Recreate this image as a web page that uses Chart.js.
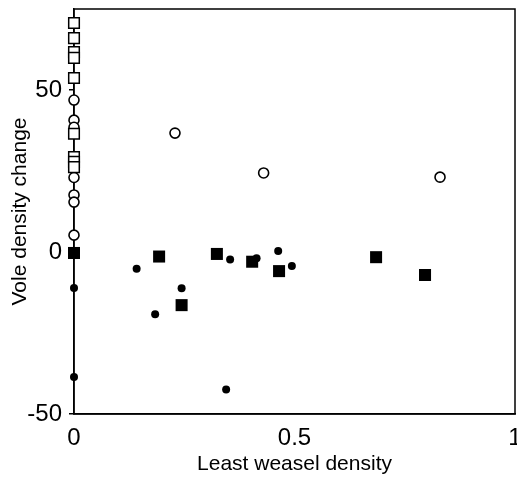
<!DOCTYPE html>
<html>
<head>
<meta charset="utf-8">
<script src="https://cdn.jsdelivr.net/npm/chart.js@4.4.1/dist/chart.umd.min.js"></script>
<style>
  html, body { margin: 0; padding: 0; background: #fff; overflow: hidden; }
  #wrap { width: 524px; height: 478px; }
</style>
</head>
<body>
<div id="wrap"><canvas id="chart"></canvas></div>
<script>
// open squares
const openSqX = [0, 0, 0, 0, 0, 0, 0, 0, 0];
const openSqY = [70.7, 66, 61.7, 59.9, 53.7, 36.5, 29.3, 27.8, 26.2];
// open circles
const openCircX = [0, 0, 0, 0, 0, 0, 0, 0.229, 0.43, 0.83];
const openCircY = [46.9, 40.7, 38.5, 23, 17.6, 15.4, 5.2, 36.7, 24.4, 23.1];
// filled squares
const fillSqX = [0, 0.193, 0.324, 0.404, 0.465, 0.244, 0.685, 0.796];
const fillSqY = [-0.3, -1.4, -0.6, -3.0, -5.9, -16.4, -1.6, -7.1];
// filled circles
const fillCircX = [0, 0, 0.142, 0.354, 0.414, 0.463, 0.494, 0.244, 0.184, 0.345];
const fillCircY = [-11.1, -38.6, -5.2, -2.3, -1.9, 0.3, -4.3, -11.2, -19.2, -42.4];

const xTicks = [0, 0.5, 1];
const yTicks = [-50, 0, 50];

const pts = (xs, ys) => xs.map((x, i) => ({ x: x, y: ys[i] }));

// draw the frame box under the markers
const frame = {
  id: 'frame',
  beforeDatasetsDraw(chart) {
    const a = chart.chartArea;
    const ctx = chart.ctx;
    ctx.save();
    ctx.strokeStyle = '#000';
    ctx.lineWidth = 1.5;
    ctx.strokeRect(a.left, a.top, a.right - a.left, a.bottom - a.top);
    ctx.restore();
  }
};

new Chart(document.getElementById('chart'), {
  type: 'scatter',
  data: {
    datasets: [
      {
        label: 'open squares',
        data: pts(openSqX, openSqY),
        pointStyle: 'rect',
        pointRadius: 7.5,
        backgroundColor: '#fff',
        borderColor: '#000',
        borderWidth: 1.5,
        clip: false
      },
      {
        label: 'open circles',
        data: pts(openCircX, openCircY),
        pointStyle: 'circle',
        pointRadius: 5,
        backgroundColor: '#fff',
        borderColor: '#000',
        borderWidth: 1.6,
        clip: false
      },
      {
        label: 'filled squares',
        data: pts(fillSqX, fillSqY),
        pointStyle: 'rect',
        pointRadius: 8.5,
        backgroundColor: '#000',
        borderColor: '#000',
        borderWidth: 0,
        clip: false
      },
      {
        label: 'filled circles',
        data: pts(fillCircX, fillCircY),
        pointStyle: 'circle',
        pointRadius: 4,
        backgroundColor: '#000',
        borderColor: '#000',
        borderWidth: 0,
        clip: false
      }
    ]
  },
  options: {
    responsive: true,
    maintainAspectRatio: false,
    animation: false,
    layout: {
      padding: { left: 10, top: 0, right: 0, bottom: 3 }
    },
    plugins: {
      legend: { display: false },
      tooltip: { enabled: false }
    },
    scales: {
      x: {
        type: 'linear',
        min: 0,
        max: 1,
        afterBuildTicks: (scale) => {
          scale.ticks = xTicks.map(v => ({ value: v }));
        },
        afterFit: (scale) => {
          scale.height = 61;
          scale.paddingRight = 2;
        },
        grid: {
          display: false,
          drawTicks: false
        },
        border: { display: true, color: '#000', width: 1.5 },
        ticks: {
          color: '#000',
          padding: 12,
          maxRotation: 0,
          font: { family: 'Liberation Sans', size: 24, lineHeight: 1 },
          callback: (v) => String(v)
        },
        title: {
          display: true,
          text: 'Least weasel density',
          color: '#000',
          font: { family: 'Liberation Sans', size: 21, lineHeight: 1 },
          padding: { top: 0, bottom: 0 }
        }
      },
      y: {
        type: 'linear',
        min: -50,
        max: 75,
        afterBuildTicks: (scale) => {
          scale.ticks = yTicks.map(v => ({ value: v }));
        },
        afterFit: (scale) => {
          scale.width = 64;
          scale.paddingTop = 8;
        },
        grid: {
          display: true,
          drawOnChartArea: false,
          drawTicks: true,
          tickLength: 5,
          color: '#000',
          lineWidth: 1.5
        },
        border: { display: true, color: '#000', width: 1.5 },
        ticks: {
          color: '#000',
          padding: 7,
          font: { family: 'Liberation Sans', size: 24, lineHeight: 1 },
          callback: (v) => String(v)
        },
        title: {
          display: true,
          text: 'Vole density change',
          color: '#000',
          font: { family: 'Liberation Sans', size: 21, lineHeight: 1 },
          padding: { top: 0, bottom: 0 }
        }
      }
    }
  },
  plugins: [frame]
});
</script>
</body>
</html>
